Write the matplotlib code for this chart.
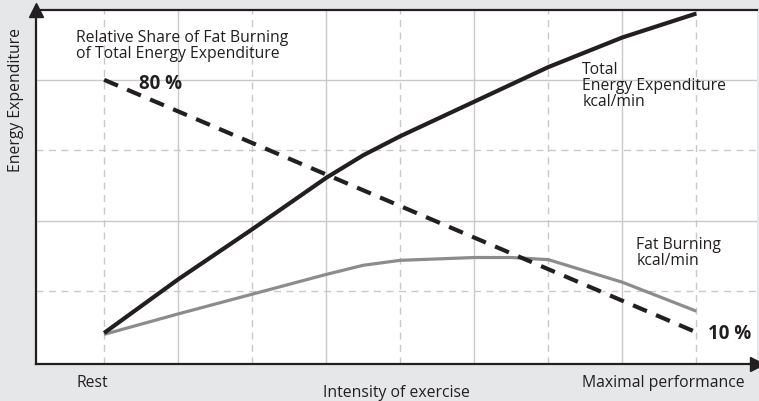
import matplotlib
matplotlib.use("Agg")
import matplotlib.pyplot as plt

plt.rcParams['font.family'] = ['Open Sans', 'DejaVu Sans']

# intensity steps: 0 = rest ... 8 = maximal performance
total_x = [0, 1, 2, 3, 3.5, 4, 5, 6, 7, 8]
total_energy = [0.41, 1.17, 1.88, 2.61, 2.93, 3.20, 3.69, 4.18, 4.60, 4.94]

fat_x = [0, 1, 2, 3, 3.5, 4, 4.5, 5, 5.5, 6, 7, 8]
fat_burning = [0.39, 0.68, 0.96, 1.24, 1.37, 1.44, 1.46, 1.48, 1.48, 1.45, 1.13, 0.72]

share_x = [0, 8]
fat_share = [4.0, 0.42]
share_labels = ['80 %', '10 %']

bg = '#e6e7e8'
grid_c = '#c9c9c9'
ink = '#231f20'

fig = plt.figure(figsize=(7.59, 4.02), dpi=100, facecolor=bg)
ax = fig.add_axes([36 / 759, 1 - 365 / 402, 721 / 759, 354 / 402])
ax.set_facecolor('white')
ax.set_xlim(-0.92, 8.82)
ax.set_ylim(-0.03, 4.99)

# grid: alternating dashed / solid
for x in range(0, 9):
    ls = (0, (5, 4)) if x % 2 == 0 else '-'
    ax.axvline(x, color=grid_c, lw=1, ls=ls, zorder=0)
for y in range(1, 5):
    ls = (0, (5, 4)) if y % 2 == 1 else '-'
    ax.axhline(y, color=grid_c, lw=1, ls=ls, zorder=0)

ax.plot(total_x, total_energy, color=ink, lw=3, solid_capstyle='butt',
        solid_joinstyle='round', zorder=3)
ax.plot(fat_x, fat_burning, color='#8c8c8c', lw=2.3, solid_capstyle='butt',
        solid_joinstyle='round', zorder=2)
ax.plot(share_x, fat_share, color=ink, lw=3, ls=(0, (3.6, 2.4)), zorder=4)

ax.text(0.47, 3.96, share_labels[0], fontsize=13.5, fontweight='bold', va='center',
        ha='left', color=ink)
ax.text(8.16, 0.41, share_labels[1], fontsize=13.5, fontweight='bold', va='center',
        ha='left', color=ink)

fs = 11.3
ax.text(-0.38, 4.72, 'Relative Share of Fat Burning\nof Total Energy Expenditure',
        fontsize=fs, va='top', ha='left', linespacing=1.0, color=ink)
ax.text(6.46, 4.27, 'Total\nEnergy Expenditure\nkcal/min',
        fontsize=fs, va='top', ha='left', linespacing=1.0, color=ink)
ax.text(7.19, 1.79, 'Fat Burning\nkcal/min',
        fontsize=fs, va='top', ha='left', linespacing=1.0, color=ink)

ax.text(-0.16, -0.28, 'Rest', fontsize=fs, ha='center', va='center', color=ink,
        clip_on=False)
ax.text(7.55, -0.28, 'Maximal performance', fontsize=fs, ha='center', va='center',
        color=ink, clip_on=False)
ax.text(3.95, -0.43, 'Intensity of exercise', fontsize=fs, ha='center', va='center',
        color=ink, clip_on=False)
fig.text(16 / 759, 1 - 100 / 402, 'Energy Expenditure', rotation=90, fontsize=fs,
         ha='center', va='center', color=ink)

ax.set_xticks([])
ax.set_yticks([])
for side in ['left', 'bottom', 'top']:
    ax.spines[side].set_color(ink)
    ax.spines[side].set_linewidth(1.6)
ax.spines['right'].set_visible(False)

# axis arrows
ax.plot([0], [1], marker='^', ms=10, color=ink, transform=ax.transAxes,
        clip_on=False, zorder=6)
ax.plot([1], [0], marker='>', ms=10, color=ink, transform=ax.transAxes,
        clip_on=False, zorder=6)

fig.savefig('out.png', dpi=100, facecolor=bg)
